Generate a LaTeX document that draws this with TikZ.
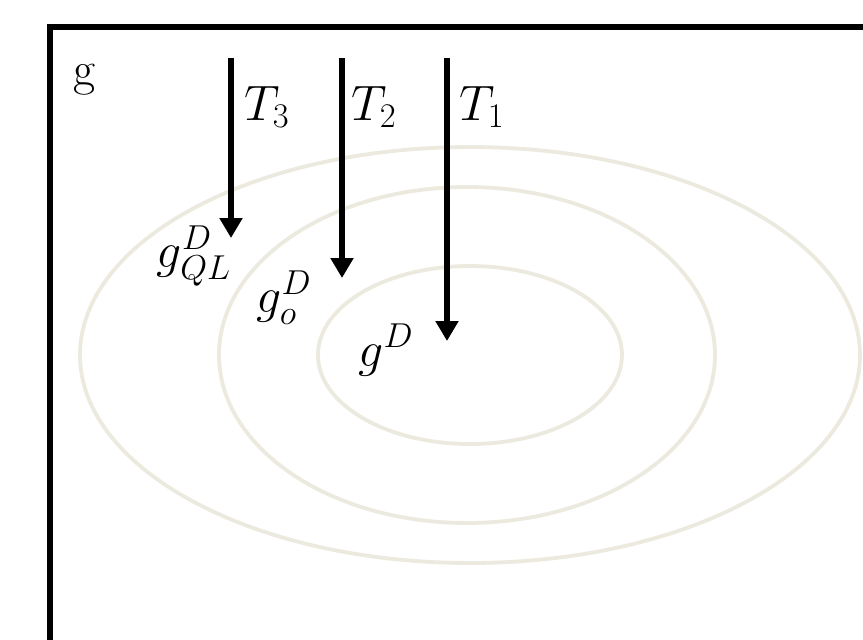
\documentclass[tikz,border=0pt]{standalone}
\usetikzlibrary{arrows.meta}
\begin{document}
\begin{tikzpicture}[x=0.5pt,y=-0.5pt,
  contour/.style={draw=ellipsecol,line width=1.9pt},
  flow/.style={line width=3pt,-{Triangle[width=11pt,length=10pt]}},
  lbl/.style={inner sep=0pt,font=\fontsize{24}{28}\selectfont}]
\definecolor{ellipsecol}{RGB}{236,234,223}
\useasboundingbox (0,0) rectangle (863,639);
\clip (0,0) rectangle (863,639);
\fill[white] (0,0) rectangle (863,639);
% contour ellipses
\draw[contour] (470,355) ellipse [x radius=390,y radius=208];
\draw[contour] (467,355) ellipse [x radius=248,y radius=168];
\draw[contour] (470,355) ellipse [x radius=152,y radius=89];
% frame
\draw[line width=2.6pt] (50,700) -- (50,27) -- (920,27);
% arrows
\coordinate (t3s) at (231,58);
\coordinate (t3e) at (231,238);
\coordinate (t2s) at (342,58);
\coordinate (t2e) at (342,278);
\coordinate (t1s) at (447,58);
\coordinate (t1e) at (447,341);
\draw[flow] (t3s) -- (t3e);
\draw[flow] (t2s) -- (t2e);
\draw[flow] (t1s) -- (t1e);
% labels
\node[lbl] (g) at (85,80) {g};
\node[lbl] (T3) at (267,107) {$T_3$};
\node[lbl] (T2) at (374,107) {$T_2$};
\node[lbl] (T1) at (482,107) {$T_1$};
\node[lbl] (gql) at (194,256) {$g^D_{QL}$};
\node[lbl] (go) at (284,298) {$g^D_o$};
\node[lbl] (gd) at (386,350) {$g^D$};
\end{tikzpicture}
\end{document}
